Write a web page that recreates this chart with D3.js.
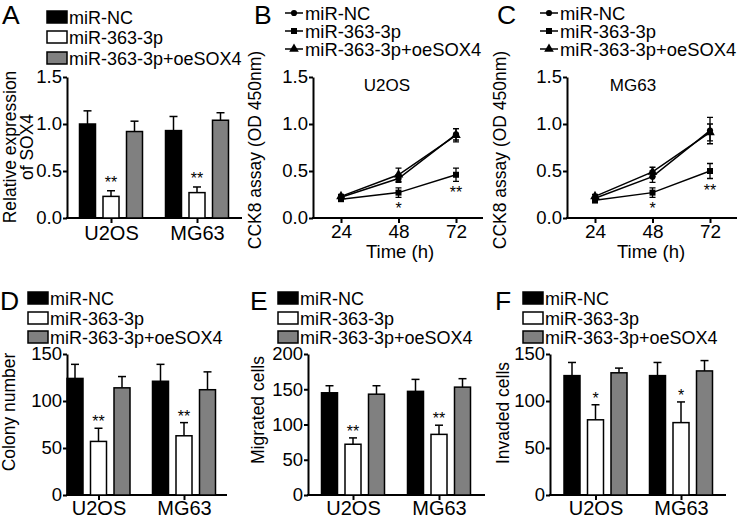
<!DOCTYPE html>
<html>
<head>
<meta charset="utf-8">
<script src="https://cdn.jsdelivr.net/npm/d3@7"></script>
<style>
  body { margin: 0; background: #fff; }
  svg text { font-family: "Liberation Sans", Arial, sans-serif; fill: #000; }
</style>
</head>
<body>
<div id="vis"></div>
<script>
// groups / series shared by every panel
const groups = ['U2OS', 'MG63'];
const series = ['miR-NC', 'miR-363-3p', 'miR-363-3p+oeSOX4'];
const hours = [24, 48, 72];

// bar panels: values indexed [group][series]
const sox4Mean = [[1.00, 0.23, 0.92], [0.93, 0.27, 1.04]];
const sox4Err = [[0.14, 0.06, 0.11], [0.15, 0.06, 0.08]];
const sox4Stars = ['**', '**'];

const colonyMean = [[124, 57, 114], [121, 63, 112]];
const colonyErr = [[15, 14, 12], [18, 14, 19]];
const colonyStars = ['**', '**'];

const migratedMean = [[145, 72, 143], [147, 86, 153]];
const migratedErr = [[10, 9, 12], [17, 13, 12]];
const migratedStars = ['**', '**'];

const invadedMean = [[127, 80, 130], [127, 77, 132]];
const invadedErr = [[14, 16, 5], [14, 22, 11]];
const invadedStars = ['*', '*'];

// CCK8 curves: values indexed [series][hour]
const u2osMean = [[0.22, 0.42, 0.89], [0.20, 0.27, 0.46], [0.23, 0.46, 0.88]];
const u2osErr = [[0.02, 0.04, 0.06], [0.02, 0.05, 0.07], [0.02, 0.07, 0.07]];
const u2osStars = ['', '*', '**'];

const mg63Mean = [[0.21, 0.44, 0.93], [0.19, 0.27, 0.50], [0.23, 0.49, 0.91]];
const mg63Err = [[0.02, 0.06, 0.14], [0.03, 0.05, 0.08], [0.02, 0.05, 0.09]];
const mg63Stars = ['', '*', '**'];

const fills = ['#000', '#fff', '#808080'];
const shapes = [d3.symbolCircle, d3.symbolSquare, d3.symbolTriangle];
const shapeSize = [30, 36, 40];
const fontFamily = '"Liberation Sans", Arial, sans-serif';

const svg = d3.select('#vis')
    .append('svg')
    .attr('width', 740)
    .attr('height', 518);

let addText = (x, y, txt, size, anchor) => svg.append('text')
    .attr('x', x).attr('y', y)
    .attr('font-size', size)
    .attr('text-anchor', anchor || 'start')
    .text(txt);

// vertical title, one or two lines
let yTitle = (lines, x, cy, size) => {
    lines.forEach((l, i) => {
        svg.append('text')
            .attr('transform', `translate(${x + i * 17}, ${cy}) rotate(-90)`)
            .attr('text-anchor', 'middle')
            .attr('font-size', size)
            .text(l);
    });
};

let leftAxis = (p, y) => {
    let g = svg.append('g')
        .attr('transform', `translate(${p.x0}, 0)`)
        .call(d3.axisLeft(y).tickValues(d3.range(0, p.max + 1e-9, p.step))
            .tickFormat(d3.format(p.fmt)).tickSize(4).tickSizeOuter(0).tickPadding(1));
    g.selectAll('path, line').attr('stroke', '#000').attr('stroke-width', 2);
    g.selectAll('text').attr('font-size', 18.5).attr('font-family', fontFamily);
    svg.append('line')
        .attr('x1', p.x0 - 1).attr('x2', p.x1)
        .attr('y1', p.bot).attr('y2', p.bot)
        .attr('stroke', '#000').attr('stroke-width', 2);
};

let bottomTicks = (scale, values, p, size) => {
    let g = svg.append('g')
        .attr('transform', `translate(0, ${p.bot})`)
        .call(d3.axisBottom(scale).tickValues(values).tickSize(5).tickSizeOuter(0).tickPadding(p.pad));
    g.select('.domain').remove();
    g.selectAll('line').attr('stroke', '#000').attr('stroke-width', 2);
    g.selectAll('text').attr('font-size', size).attr('font-family', fontFamily);
};

let barPanel = p => {
    addText(p.lx, p.ly, p.letter, 26.5);

    // legend
    series.forEach((s, i) => {
        svg.append('rect')
            .attr('x', p.legX).attr('y', p.legRows[i] - 6)
            .attr('width', 20).attr('height', 12)
            .attr('fill', fills[i]).attr('stroke', '#000').attr('stroke-width', 1.5);
        addText(p.legX + 22, p.legRows[i] + 6.5, s, 18);
    });

    let y = d3.scaleLinear().domain([0, p.max]).range([p.bot, p.top]);
    let gx = d3.scalePoint().domain(groups).range(p.centers);
    leftAxis(p, y);
    bottomTicks(gx, groups, p, 20);

    groups.forEach((grp, gi) => {
        series.forEach((s, si) => {
            let cx = gx(grp) + (si - 1) * 23.5;
            let m = p.mean[gi][si];
            let e = p.err[gi][si];
            svg.append('line')
                .attr('x1', cx).attr('x2', cx)
                .attr('y1', y(m)).attr('y2', y(m + e))
                .attr('stroke', '#000').attr('stroke-width', 1.5);
            svg.append('line')
                .attr('x1', cx - 4).attr('x2', cx + 4)
                .attr('y1', y(m + e)).attr('y2', y(m + e))
                .attr('stroke', '#000').attr('stroke-width', 1.5);
            svg.append('rect')
                .attr('x', cx - 8).attr('y', y(m))
                .attr('width', 16).attr('height', p.bot - y(m))
                .attr('fill', fills[si]).attr('stroke', '#000').attr('stroke-width', 1.5);
            if (si == 1) {
                addText(cx, y(m + e) - p.starGap, p.stars[gi], 16, 'middle');
            }
        });
    });

    yTitle(p.title, p.tx, p.ty, 17.5);
};

let linePanel = p => {
    addText(p.lx, p.ly, p.letter, 26.5);

    series.forEach((s, i) => {
        let cy = p.legRows[i];
        svg.append('line')
            .attr('x1', p.legX).attr('x2', p.legX + 18)
            .attr('y1', cy).attr('y2', cy)
            .attr('stroke', '#000').attr('stroke-width', 1.5);
        svg.append('path')
            .attr('d', d3.symbol(shapes[i], shapeSize[i])())
            .attr('transform', `translate(${p.legX + 9}, ${cy})`);
        addText(p.legX + 20, cy + 6.5, s, 18.4);
    });

    let y = d3.scaleLinear().domain([0, p.max]).range([p.bot, p.top]);
    let x = d3.scaleLinear().domain([24, 72]).range(p.xr);
    leftAxis(p, y);
    bottomTicks(x, hours, p, 19);

    let line = d3.line().x((d, i) => x(hours[i])).y(d => y(d));

    series.forEach((s, si) => {
        svg.append('path')
            .attr('d', line(p.mean[si]))
            .attr('fill', 'none').attr('stroke', '#000').attr('stroke-width', 1.5);
        p.mean[si].forEach((m, hi) => {
            let cx = x(hours[hi]);
            let e = p.err[si][hi];
            svg.append('path')
                .attr('d', `M${cx},${y(m - e)}V${y(m + e)}M${cx - 3},${y(m - e)}H${cx + 3}M${cx - 3},${y(m + e)}H${cx + 3}`)
                .attr('stroke', '#000').attr('stroke-width', 1.3).attr('fill', 'none');
            svg.append('path')
                .attr('d', d3.symbol(shapes[si], shapeSize[si])())
                .attr('transform', `translate(${cx}, ${y(m)})`);
        });
    });

    // significance marks sit under the miR-363-3p curve
    hours.forEach((h, hi) => {
        let m = p.mean[1][hi];
        let e = p.err[1][hi];
        if (p.stars[hi]) addText(x(h), y(m - e) + 17, p.stars[hi], 16, 'middle');
    });

    addText(p.cellX, 91, p.cell, 17, 'middle');
    addText(p.timeX, 258, 'Time (h)', 18.5, 'middle');
    yTitle(p.title, p.tx, p.ty, 17.5);
};

barPanel({
    letter: 'A', lx: 2, ly: 24, legX: 47, legRows: [17, 37, 58],
    x0: 67, x1: 242, top: 77, bot: 218, max: 1.5, step: 0.5, fmt: '.1f', pad: 3,
    centers: [111, 197], mean: sox4Mean, err: sox4Err, stars: sox4Stars, starGap: 3,
    title: ['Relative expression', 'of SOX4'], tx: 16, ty: 147
});

linePanel({
    letter: 'B', lx: 254, ly: 24, legX: 285, legRows: [13, 31, 49],
    x0: 313, x1: 483, top: 77, bot: 218, max: 1.5, step: 0.5, fmt: '.1f', pad: 2,
    xr: [341, 456], mean: u2osMean, err: u2osErr, stars: u2osStars,
    cell: 'U2OS', cellX: 387, timeX: 400,
    title: ['CCK8 assay (OD 450nm)'], tx: 261, ty: 150
});

linePanel({
    letter: 'C', lx: 497, ly: 24, legX: 540, legRows: [13, 31, 49],
    x0: 567, x1: 737, top: 77, bot: 218, max: 1.5, step: 0.5, fmt: '.1f', pad: 2,
    xr: [595, 710], mean: mg63Mean, err: mg63Err, stars: mg63Stars,
    cell: 'MG63', cellX: 633, timeX: 651,
    title: ['CCK8 assay (OD 450nm)'], tx: 506, ty: 150
});

barPanel({
    letter: 'D', lx: 0, ly: 310, legX: 28, legRows: [298, 318, 337],
    x0: 67, x1: 227, top: 354, bot: 495, max: 150, step: 50, fmt: 'd', pad: 1,
    centers: [98.5, 184], mean: colonyMean, err: colonyErr, stars: colonyStars, starGap: 1,
    title: ['Colony number'], tx: 15, ty: 412
});

barPanel({
    letter: 'E', lx: 250, ly: 310, legX: 278, legRows: [298, 318, 337],
    x0: 308, x1: 485, top: 354, bot: 495, max: 200, step: 50, fmt: 'd', pad: 1,
    centers: [353, 439], mean: migratedMean, err: migratedErr, stars: migratedStars, starGap: 1,
    title: ['Migrated cells'], tx: 264, ty: 410
});

barPanel({
    letter: 'F', lx: 495, ly: 310, legX: 523, legRows: [298, 318, 337],
    x0: 550, x1: 726, top: 354, bot: 495, max: 150, step: 50, fmt: 'd', pad: 1,
    centers: [595.5, 681], mean: invadedMean, err: invadedErr, stars: invadedStars, starGap: 1,
    title: ['Invaded cells'], tx: 509, ty: 413
});
</script>
</body>
</html>
